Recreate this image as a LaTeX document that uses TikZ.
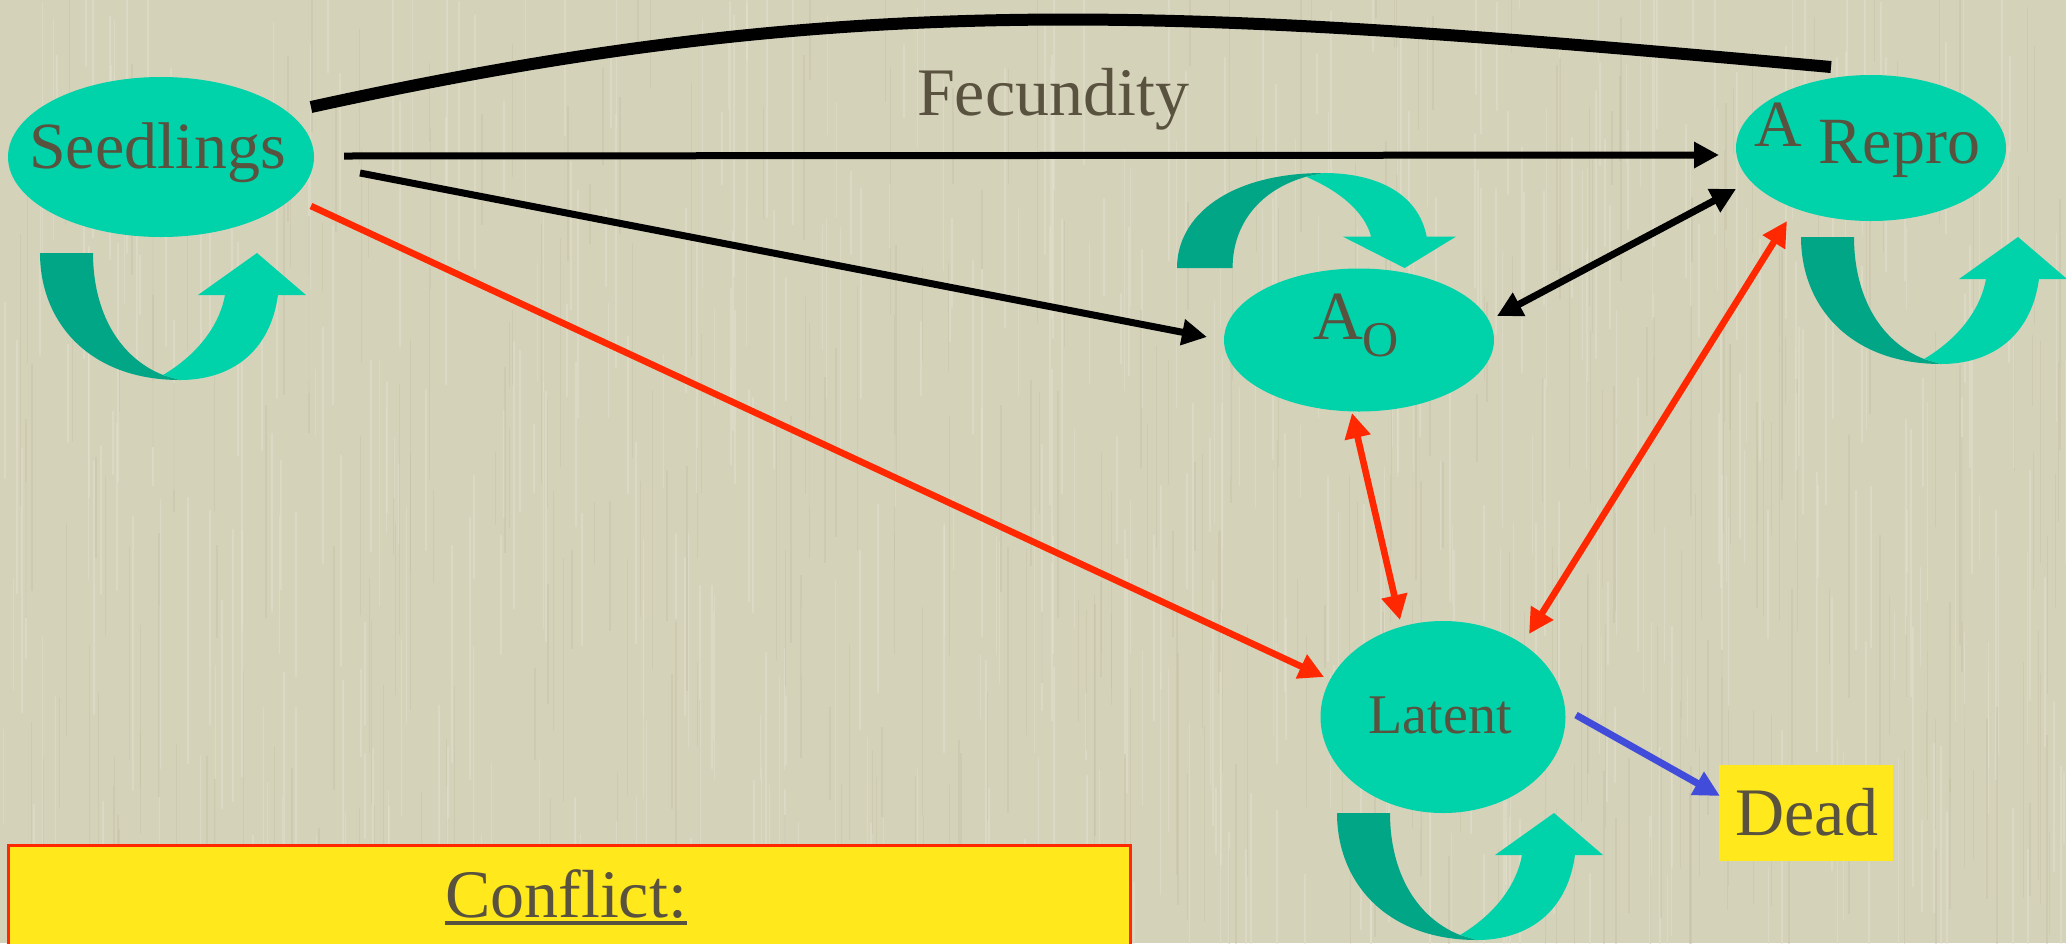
\documentclass[tikz,border=0pt]{standalone}
\usepackage{fontspec}
\setmainfont{Liberation Serif}
\usetikzlibrary{arrows.meta,shapes.geometric}

\definecolor{paper}{RGB}{213,210,186}
\definecolor{paperlight}{RGB}{228,226,206}
\definecolor{paperdark}{RGB}{192,189,162}
\definecolor{mint}{RGB}{0,210,170}
\definecolor{mintdark}{RGB}{0,166,134}
\definecolor{ink}{RGB}{88,82,62}
\definecolor{lemon}{RGB}{255,232,28}
\definecolor{redline}{RGB}{255,40,0}
\definecolor{blueline}{RGB}{66,76,218}

\tikzset{
  % curled self-transition ribbon: dark back band, light band with head
  returnarrow/.pic={
    \fill[mintdark] (0,0) -- (53,0) .. controls (53,60) and (80,105) .. (123,122)
      -- (140,127) .. controls (50,127) and (0,70) .. (0,0) -- cycle;
    \fill[mint] (123,122) .. controls (160,100) and (180,70) .. (185,42)
      -- (158,42) -- (217,0) -- (266,42) -- (238,42)
      .. controls (230,100) and (190,127) .. (140,127) -- cycle;
  }
}

\begin{document}
\begin{tikzpicture}[x=0.5pt,y=-0.5pt,
  state/.style={ellipse, fill=mint, draw=none, inner sep=0pt},
  lbl/.style={text=ink, inner sep=0pt, anchor=base},
  blk/.style={draw=black, line width=3.5pt, -{Triangle[length=12.5pt,width=12.5pt]}},
  blk2/.style={draw=black, line width=3.5pt, {Triangle[length=12.5pt,width=12.5pt]}-{Triangle[length=12.5pt,width=12.5pt]}},
  red2/.style={draw=redline, line width=3.3pt, {Triangle[length=12.5pt,width=12.5pt]}-{Triangle[length=12.5pt,width=12.5pt]}},
  red1/.style={draw=redline, line width=3.3pt, -{Triangle[length=12.5pt,width=12.5pt]}},
  blue1/.style={draw=blueline, line width=3.5pt, -{Triangle[length=13pt,width=12.5pt]}},
]
\useasboundingbox (0,0) rectangle (2066,943);
\fill[paper] (0,0) rectangle (2066,943);

% fibrous paper grain
\begin{scope}
  \clip (0,0) rectangle (2066,943);
  \pgfmathsetseed{41}
  \foreach \i in {1,...,500}{
    \pgfmathsetmacro\gx{rnd*2066}
    \pgfmathsetmacro\gy{rnd*943-60}
    \pgfmathsetmacro\gl{60+rnd*220}
    \draw[paperlight, opacity=0.45, line width=0.8pt] (\gx,\gy) -- ++(0,\gl);
  }
  \foreach \i in {1,...,350}{
    \pgfmathsetmacro\gx{rnd*2066}
    \pgfmathsetmacro\gy{rnd*943-60}
    \pgfmathsetmacro\gl{60+rnd*220}
    \draw[paperdark, opacity=0.35, line width=0.7pt] (\gx,\gy) -- ++(0,\gl);
  }
\end{scope}

% stage nodes
\node[state, minimum width=153pt, minimum height=80pt] (seed) at (161,157) {};
\node[state, minimum width=135pt, minimum height=71.5pt] (ao) at (1359,340) {};
\node[state, minimum width=135pt, minimum height=73pt] (repro) at (1871,148) {};
\node[state, minimum width=122.5pt, minimum height=96pt] (latent) at (1443,717) {};
\node[fill=lemon, inner sep=0pt, minimum width=87pt, minimum height=48pt] (dead) at (1806,813) {};

% labels
\node[lbl, font=\fontsize{33}{36}\selectfont] (seedlbl) at ([shift={(-3.5,11)}]seed.center) {Seedlings};
\node[lbl, font=\fontsize{34.5}{36}\selectfont] (aolbl) at ([shift={(-3,-1)}]ao.center)
  {A\raisebox{-8.5pt}{\fontsize{25}{26}\selectfont O}};
\node[lbl, font=\fontsize{33}{36}\selectfont] (reprolbl) at ([shift={(-3.5,15)}]repro.center)
  {\raisebox{8.5pt}{A} Repro};
\node[lbl, font=\fontsize{28}{30}\selectfont] (latentlbl) at ([shift={(-3,16)}]latent.center) {Latent};
\node[lbl, font=\fontsize{34}{36}\selectfont] (deadlbl) at ([shift={(1,22)}]dead.center) {Dead};
\node[lbl, font=\fontsize{34}{36}\selectfont] (fec) at (1053,115) {Fecundity};

% self-transition ribbons
\pic at ([shift={(-121,96)}]seed.center) {returnarrow};
\pic at ([shift={(-70,89)}]repro.center) {returnarrow};
\pic at ([shift={(-106,96)}]latent.center) {returnarrow};
\pic[xscale=1.049, yscale=-0.748] at ([shift={(-182,-72)}]ao.center) {returnarrow};

% fecundity arc
\draw[line width=6pt] ([shift={(150,-50)}]seed.center)
  .. controls (861,-14) and (1181,8.5) .. ([shift={(-40,-81)}]repro.center);

% transitions
\draw[blk] ([shift={(183,-1)}]seed.center) -- ([shift={(-152,7)}]repro.center);
\draw[blk] ([shift={(199,16)}]seed.center) -- ([shift={(-152,-3)}]ao.center);
\draw[blk2] ([shift={(138,-24)}]ao.center) -- ([shift={(-135,41)}]repro.center);
\draw[red1] ([shift={(150,49)}]seed.center) -- ([shift={(-119,-40)}]latent.center);
\draw[red2] ([shift={(-7,73)}]ao.center) -- ([shift={(-43,-97)}]latent.center);
\draw[red2] ([shift={(-84,73)}]repro.center) -- ([shift={(86,-83)}]latent.center);
\draw[blue1] ([shift={(133,-2)}]latent.center) -- ([shift={(-86,-17)}]dead.center);

% conflict panel, running off the lower edge
\begin{scope}
  \clip (0,0) rectangle (2066,943);
  \fill[lemon, draw=redline, line width=1.5pt] (8,845) rectangle (1130,990);
\end{scope}
\node[lbl, font=\fontsize{34}{36}\selectfont] (conflict) at (566,917) {Conflict:};
\draw[ink, line width=2pt] ([yshift=-3pt]conflict.base west) -- ([yshift=-3pt]conflict.base east);
\end{tikzpicture}
\end{document}
